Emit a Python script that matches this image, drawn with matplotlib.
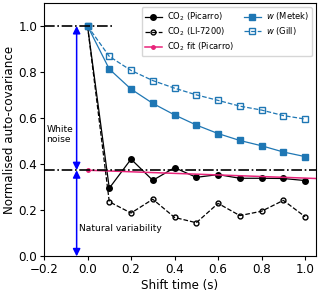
import numpy as np
import matplotlib.pyplot as plt

# shift times (s)
shift = [0.0, 0.1, 0.2, 0.3, 0.4, 0.5, 0.6, 0.7, 0.8, 0.9, 1.0]

# normalised auto-covariance
co2_picarro = [1.0, 0.296, 0.422, 0.330, 0.385, 0.343, 0.355, 0.339, 0.339, 0.338, 0.329]
co2_li7200 = [1.0, 0.237, 0.188, 0.248, 0.169, 0.146, 0.230, 0.177, 0.196, 0.243, 0.172]
w_metek = [1.0, 0.813, 0.726, 0.664, 0.614, 0.570, 0.533, 0.503, 0.480, 0.453, 0.433]
w_gill = [1.0, 0.868, 0.807, 0.763, 0.730, 0.701, 0.677, 0.652, 0.635, 0.611, 0.596]

# linear fit of Picarro (intercept, end value)
fit_x = [0.0, 1.05]
fit_y = [0.374, 0.338]
white_level = 0.374

plt.rcParams['font.size'] = 8.6

fig = plt.figure(figsize=(3.2, 2.93), dpi=100)
ax = fig.add_axes([0.1375, 0.125, 0.85, 0.865])

ax.plot(shift, co2_picarro, 'k-o', ms=4, lw=0.9, label='CO$_2$ (Picarro)')
ax.plot(shift, co2_li7200, 'k--o', ms=3.5, lw=0.9, mfc='none', label='CO$_2$ (LI-7200)')
ax.plot(fit_x, fit_y, '-o', color='#e8247a', ms=2.5, lw=1.1, markevery=[0], label='CO$_2$ fit (Picarro)')
ax.plot(shift, w_metek, '-s', color='#1f77b4', ms=4, lw=0.9, label='$w$ (Metek)')
ax.plot(shift, w_gill, '--s', color='#1f77b4', ms=4, lw=0.9, mfc='none', label='$w$ (Gill)')

# dash-dot reference lines
ax.plot([-0.2, 0.12], [1.0, 1.0], 'k-.', lw=1.2)
ax.axhline(white_level, color='k', ls='-.', lw=1.2)

# arrows
ax.annotate('', xy=(-0.05, 1.0), xytext=(-0.05, white_level),
            arrowprops=dict(arrowstyle='<|-|>', color='blue', lw=1.1, mutation_scale=11, shrinkA=0, shrinkB=0))
ax.annotate('', xy=(-0.05, 0.0), xytext=(-0.05, white_level),
            arrowprops=dict(arrowstyle='<|-|>', color='blue', lw=1.1, mutation_scale=11, shrinkA=0, shrinkB=0))
ax.text(-0.188, 0.53, 'White\nnoise', fontsize=6.6, va='center', ha='left')
ax.text(-0.037, 0.12, 'Natural variability', fontsize=6.6, va='center', ha='left')

ax.set_xlim(-0.2, 1.05)
ax.set_ylim(0, 1.1)
ax.set_xticks([-0.2, 0.0, 0.2, 0.4, 0.6, 0.8, 1.0])
ax.set_yticks([0.0, 0.2, 0.4, 0.6, 0.8, 1.0])
ax.tick_params(length=2.8, width=0.8, pad=2)
ax.set_xlabel('Shift time (s)', labelpad=2)
ax.set_ylabel('Normalised auto-covariance', labelpad=2)
ax.legend(loc='upper right', ncol=2, fontsize=6, handlelength=2, columnspacing=1.2,
          borderpad=0.4, labelspacing=0.3, handletextpad=0.6)

plt.savefig('out.png', dpi=100)
